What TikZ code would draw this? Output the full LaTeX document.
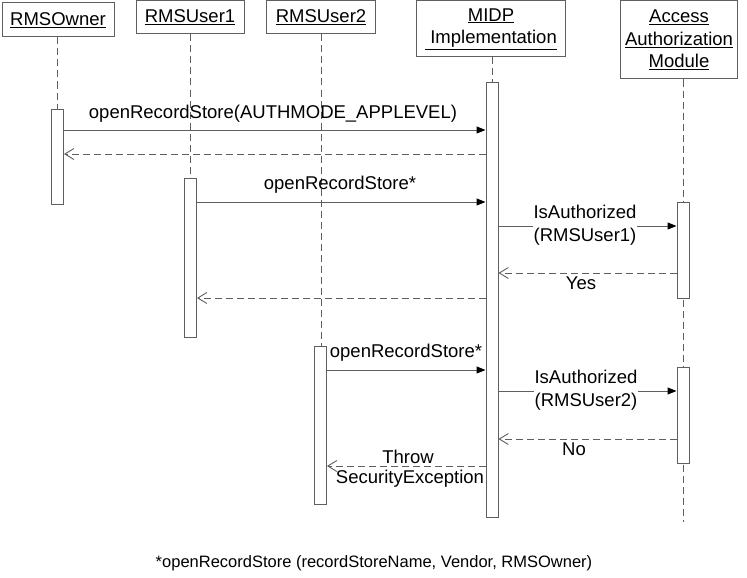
\documentclass[tikz,border=0pt]{standalone}
\usepackage{fontspec}
\setmainfont{Liberation Sans}
\usetikzlibrary{arrows.meta}
\definecolor{ln}{RGB}{95,95,95}
\tikzset{
  head/.style={draw=ln, line width=1pt, fill=white, align=center, inner sep=0pt, font=\fontsize{18.5}{22.5}\selectfont},
  bar/.style={draw=ln, line width=1pt, fill=white, minimum width=12pt, inner sep=0pt, anchor=north},
  life/.style={draw=ln, line width=1pt, dash pattern=on 7pt off 4pt},
  call/.style={draw=ln, line width=1pt, -{Triangle[length=9pt,width=7pt,color=black]}},
  ret/.style={draw=ln, line width=1pt, dash pattern=on 7pt off 4pt, -{Straight Barb[length=9pt,width=11pt,line width=0.9pt]}},
  lbl/.style={font=\fontsize{18.5}{23}\selectfont, align=center, inner sep=0pt},
  wlbl/.style={lbl, fill=white, inner xsep=1pt}
}
\begin{document}
\begin{tikzpicture}[x=1pt,y=-1pt]
\useasboundingbox (0,0) rectangle (747,578);
% heads
\node[head, minimum width=112pt, minimum height=34pt] (owner) at (58,20) {\underline{RMSOwner}};
\node[head, minimum width=108pt, minimum height=33pt] (user1) at (190,17.5) {\underline{RMSUser1}};
\node[head, minimum width=109pt, minimum height=33pt] (user2) at (321,17.5) {\underline{RMSUser2}};
\node[head, minimum width=149pt, minimum height=56pt] (midp) at (491,29) {\underline{MIDP}\\\underline{\ Implementation}};
\node[head, minimum width=117pt, minimum height=78pt] (aam) at (679,40) {\underline{Access}\\\underline{Authorization}\\\underline{Module}};
% lifeline ends
\coordinate (ownerend) at (57,109);
\coordinate (user1end) at (190,178);
\coordinate (user2end) at (321,346);
\coordinate (midpend) at (492,82);
\coordinate (aamend) at (683,522);
\draw[life] (owner.south -| ownerend) -- (ownerend);
\draw[life] (user1.south -| user1end) -- (user1end);
\draw[life] (user2.south -| user2end) -- (user2end);
\draw[life] (midp.south -| midpend) -- (midpend);
\draw[life] (aam.south -| aamend) -- (aamend);
% activation bars
\node[bar, minimum height=95pt] (ownerbar) at (57.5,109) {};
\node[bar, minimum height=159pt] (user1bar) at (190.5,178) {};
\node[bar, minimum height=158pt] (user2bar) at (320.5,346) {};
\node[bar, minimum height=435pt] (midpbar) at (492,82) {};
\node[bar, minimum height=96pt] (aambar1) at (683,202) {};
\node[bar, minimum height=96pt] (aambar2) at (683,367) {};
% messages
\draw[call] (ownerbar.east |- 0,130) -- (midpbar.west |- 0,130);
\node[lbl] (m1) at (273,114) {openRecordStore(AUTHMODE\_APPLEVEL)};
\draw[ret] (midpbar.west |- 0,154) -- (ownerbar.east |- 0,154);
\draw[call] (user1bar.east |- 0,202) -- (midpbar.west |- 0,202);
\node[lbl] (m2) at (340,185) {openRecordStore*};
\draw[call] (midpbar.east |- 0,226) -- (aambar1.west |- 0,226);
\node[wlbl] (m3) at (585,225) {IsAuthorized\\(RMSUser1)};
\draw[ret] (aambar1.west |- 0,273) -- (midpbar.east |- 0,273);
\node[lbl] (m4) at (581,283) {Yes};
\draw[ret] (midpbar.west |- 0,298) -- (user1bar.east |- 0,298);
\draw[call] (user2bar.east |- 0,370) -- (midpbar.west |- 0,370);
\node[lbl] (m5) at (406,353) {openRecordStore*};
\draw[call] (midpbar.east |- 0,391) -- (aambar2.west |- 0,391);
\node[wlbl] (m6) at (586,390) {IsAuthorized\\(RMSUser2)};
\draw[ret] (aambar2.west |- 0,439) -- (midpbar.east |- 0,439);
\node[lbl] (m7) at (574,449) {No};
\draw[ret] (midpbar.west |- 0,466) -- (user2bar.east |- 0,466);
\node[lbl] (m8a) at (408,457) {Throw};
\node[lbl] (m8b) at (410,479) {SecurityException};
% footnote
\node[lbl, font=\fontsize{16.5}{20}\selectfont] (note) at (374,563) {*openRecordStore (recordStoreName, Vendor, RMSOwner)};
\end{tikzpicture}
\end{document}
